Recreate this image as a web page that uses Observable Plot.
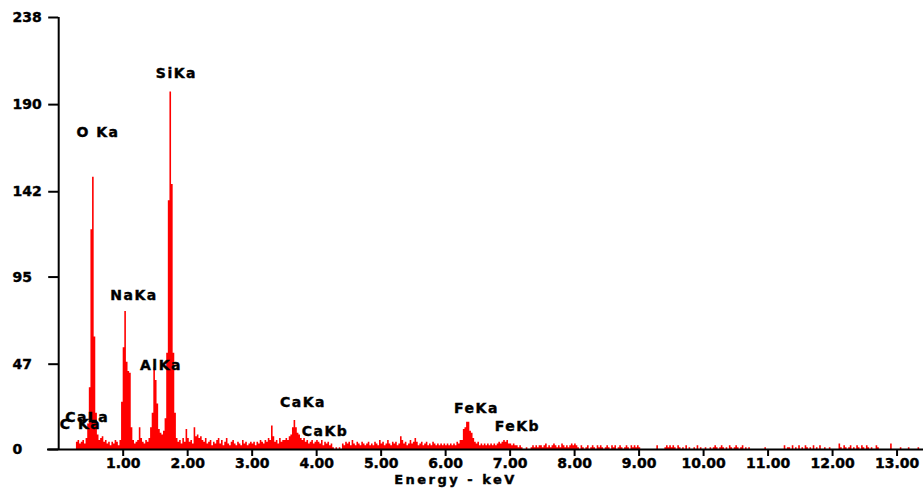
<!DOCTYPE html>
<html><head><meta charset="utf-8">
<script src="https://cdn.jsdelivr.net/npm/d3@7"></script>
<script src="https://cdn.jsdelivr.net/npm/@observablehq/plot@0.6"></script>
<style>html,body{margin:0;padding:0;background:#fff;} #chart svg{display:block;}</style>
</head><body><div id="chart"></div>
<script>
// channel width of the spectrum, keV
const channelWidth = 0.025;

// counts per channel, 0.000 - 1.975 keV
const countsLow = [
  0,0,0,0,0,0,0,0,0,0,
  0,4,5,3,4,5,3,6,14,34,
  121,150,62,20,8,5,6,7,4,5,
  3,4,2,4,3,5,4,2,5,26,
  56,76,48,43,42,12,5,3,4,5,
  12,6,4,3,5,4,6,12,20,45,
  38,25,11,9,8,10,17,53,137,197,
  146,53,20,6,4,5,3,6,4,11
];
// counts per channel, 2.000 - 5.975 keV
const countsMid = [
  6,4,5,3,12,7,8,6,7,5,
  4,6,3,4,5,2,4,3,5,6,
  3,5,2,4,6,3,2,4,5,3,
  2,4,3,2,5,3,4,2,3,4,
  3,4,2,4,3,5,4,3,5,4,
  6,5,13,7,4,5,3,6,4,5,
  5,6,5,7,8,12,16,12,9,8,
  6,5,6,4,5,3,4,5,3,4,
  5,4,3,5,2,4,3,4,2,3,
  1,0,1,0,1,0,3,2,4,3,
  4,2,5,3,2,4,3,2,4,3,
  2,3,4,2,3,2,4,3,2,5,
  3,4,2,3,5,3,2,4,3,4,
  2,3,7,5,3,4,2,3,5,3,
  4,6,4,2,3,4,2,3,4,2,
  3,2,4,3,2,3,2,3,2,3
];
// counts per channel, 6.000 - 13.400 keV
const countsHigh = [
  2,3,2,3,2,3,2,4,3,5,
  5,11,12,15,15,10,9,6,4,3,
  4,2,3,2,3,2,3,2,3,2,
  3,2,3,4,3,4,5,4,5,3,
  3,2,3,2,2,1,2,1,0,0,
  1,0,0,1,2,1,2,1,2,2,
  1,2,3,1,2,1,2,3,2,1,
  2,1,3,2,1,2,1,2,3,2,
  3,2,1,0,2,1,0,1,2,0,
  1,2,1,0,2,1,2,1,0,1,
  2,1,0,2,1,2,0,1,2,1,
  0,1,2,1,0,2,1,2,1,2,
  1,0,0,0,0,0,0,0,0,0,
  0,2,0,0,0,0,1,2,1,2,
  1,2,1,0,2,1,0,1,0,2,
  0,1,0,0,1,0,2,0,1,0,
  0,1,0,0,1,0,1,2,1,0,
  1,2,1,0,1,0,2,1,0,1,
  2,1,0,1,2,0,1,0,1,0,
  0,0,0,0,0,0,0,0,1,0,
  0,0,0,0,0,0,0,0,0,0,
  2,0,1,1,0,2,0,1,0,2,
  0,1,0,2,1,0,1,0,2,0,
  1,0,2,0,0,1,0,0,1,0,
  0,0,0,0,3,1,0,2,1,0,
  1,2,0,1,0,2,1,0,2,1,
  0,2,1,0,1,0,0,2,1,0,
  0,0,0,0,0,0,3,0,0,0,
  0,0,1,0,0,0,0,1,0,0,
  0,0,0,1,0,0,0
];

const xTicks = [1,2,3,4,5,6,7,8,9,10,11,12,13];
const yTicks = [0,47,95,142,190,238];

const peakLabels  = ["C Ka","CaLa","O Ka","NaKa","AlKa","SiKa","CaKa","CaKb","FeKa","FeKb"];
const labelEnergy = [0.338, 0.442, 0.609, 1.167, 1.586, 1.826, 3.788, 4.129, 6.478, 7.113];
const labelCount  = [13.6, 17.6, 174.9, 84.8, 46.3, 206.9, 25.9, 9.9, 22.6, 12.4];

const axisTitle = "Energy - keV";

const counts = countsLow.concat(countsMid, countsHigh);
const spectrum = counts.map((c, i) => ({energy: i * channelWidth, count: c}));
spectrum.push({energy: counts.length * channelWidth, count: 0});
const labels = peakLabels.map((t, i) => ({text: t, energy: labelEnergy[i], count: labelCount[i]}));

const chart = Plot.plot({
  width: 923, height: 490,
  marginLeft: 47, marginRight: 0, marginTop: 17, marginBottom: 41,
  style: {fontFamily: "'DejaVu Sans', sans-serif", fontWeight: "bold", fontSize: "14px", color: "#000", background: "#fff", overflow: "visible"},
  x: {domain: [-0.1736, 13.41]},
  y: {domain: [0, 238]},
  marks: [
    Plot.areaY(spectrum, {x: "energy", y: "count", curve: "step-after", fill: "#ff0000"}),
    Plot.ruleY([0], {stroke: "#000", strokeWidth: 2}),
    Plot.ruleX([0], {stroke: "#000", strokeWidth: 2}),
    Plot.axisX({ticks: xTicks, tickFormat: d => d.toFixed(2), tickSize: 7, tickPadding: 2, label: null, strokeWidth: 2, stroke: "#000"}),
    Plot.axisY({ticks: yTicks, tickFormat: () => "", tickSize: 10, label: null, dx: 11.2, strokeWidth: 2, stroke: "#000"}),
    Plot.text(yTicks, {y: d => d, text: d => String(d), frameAnchor: "left", textAnchor: "start", dx: -35, fill: "#000"}),
    Plot.text(labels, {x: "energy", y: "count", text: "text", fill: "#000"}),
    Plot.text([axisTitle], {frameAnchor: "bottom", dx: -30, dy: 34, fill: "#000", fontSize: 13})
  ]
});
document.getElementById("chart").appendChild(chart);
const svg = d3.select(chart);
// heavier glyphs, as in the reference
svg.selectAll("text").style("stroke", "#000").style("stroke-width", "0.4px");
const textGroups = svg.selectAll('g[aria-label="text"]').nodes();
// peak labels and axis title use wider letter spacing
d3.select(textGroups[1]).selectAll("text").style("letter-spacing", "1.5px");
d3.select(textGroups[2]).selectAll("text").style("letter-spacing", "2.5px");
</script>
</body></html>
